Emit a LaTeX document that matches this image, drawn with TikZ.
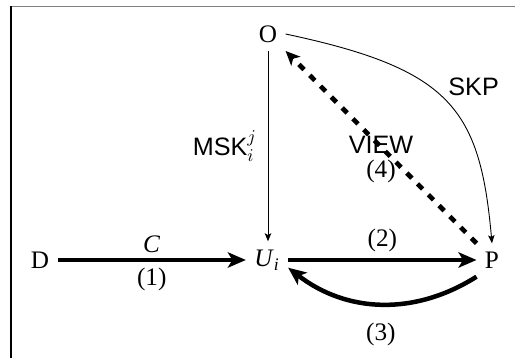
\documentclass[tikz,border=0pt]{standalone}
\usepackage{fontspec}
\setmainfont{Liberation Serif}
\setsansfont{Liberation Sans}
\usetikzlibrary{arrows.meta}
\begin{document}
\begin{tikzpicture}[x=0.5556pt,y=0.5556pt,
  font=\fontsize{14}{16}\selectfont,
  party/.style={inner sep=4.5pt},
  lbl/.style={inner sep=3pt},
  sans/.style={font=\fontsize{14}{16}\selectfont\sffamily},
  heavy/.style={line width=2.5pt,-{Stealth[length=10pt,width=8.5pt,inset=2.5pt]}},
  dotted heavy/.style={line width=2.6pt,dash pattern=on 4pt off 4.5pt,-{Stealth[length=8pt,width=7pt,inset=2pt]}},
  light/.style={line width=0.5pt,-{Stealth[length=4.5pt,width=3.6pt,inset=1pt]}}]
\useasboundingbox (0,0) rectangle (515,-358);
% frame
\draw[line width=0.7pt,gray] (10.5,-6.5) -- (515,-6.5);
\draw[line width=0.7pt] (11,-6.5) -- (11,-358);
% nodes
\node[party] (O) at (268,-34) {O};
\node[party] (D) at (40,-260) {D};
\node[party] (U) at (267,-260) {\textit{U}\textsubscript{\textit{i}}};
\node[party] (P) at (492,-260) {P};
% connectors
\draw[heavy] (D) -- node[above,lbl]{\textit{C}} node[below,lbl]{(1)} (U);
\draw[heavy] (U) -- node[above,lbl]{(2)} (P);
\draw[heavy] (P.south west) to[bend left=35] node[below=6pt]{(3)} (U.-20);
\draw[light] (O.south) -- node[left,lbl,xshift=-3pt,sans]{MSK$^j_i$} (O.south |- U.north);
\draw[light] (O.east) .. controls +(165,-35) and +(-12,135) .. node[pos=0.5,above right,lbl,sans,xshift=-2pt]{SKP} (P.north);
\draw[dotted heavy] (P.north west) -- node[pos=0.5,sans,inner sep=1pt,yshift=1pt]{VIEW} node[pos=0.5,inner sep=1pt,yshift=-13.5pt]{(4)} (O.south east);
\end{tikzpicture}
\end{document}
